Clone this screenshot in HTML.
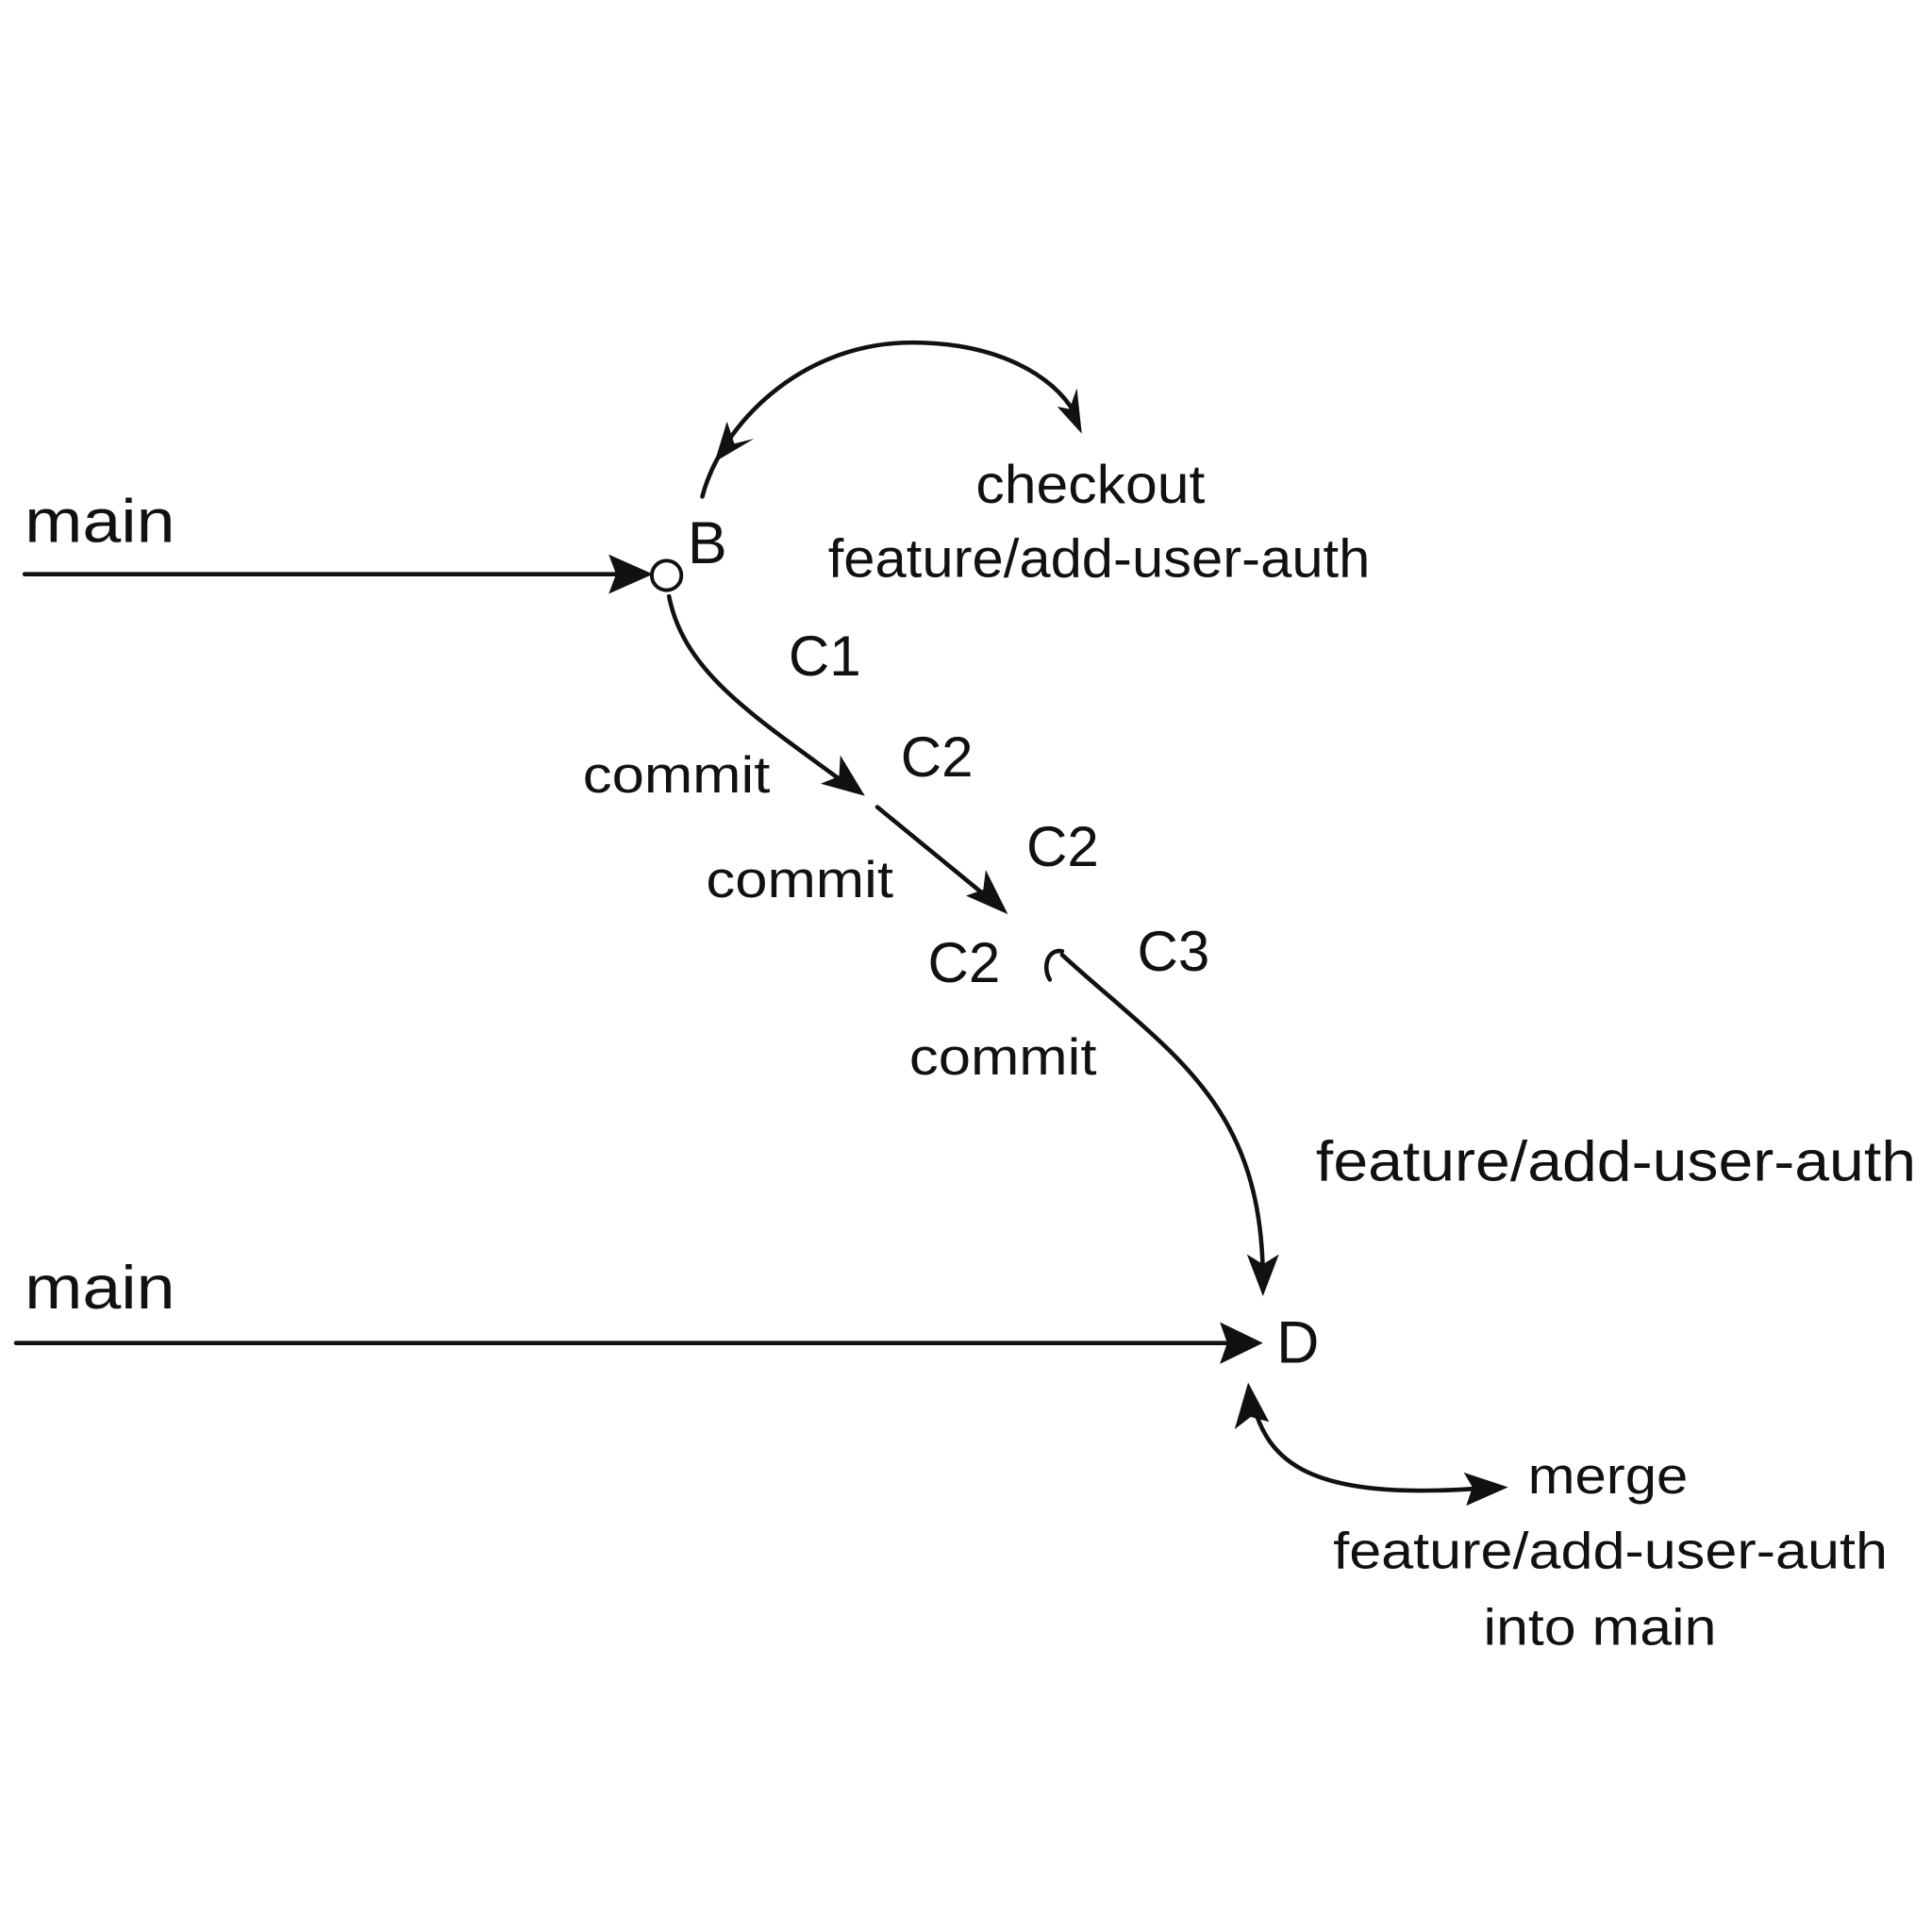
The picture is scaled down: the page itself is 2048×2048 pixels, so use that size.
<!DOCTYPE html>
<html><head><meta charset="utf-8"><style>
html,body{margin:0;padding:0;background:#fff;}
svg{display:block;}
text{font-family:"Liberation Sans","DejaVu Sans",sans-serif;fill:#111;}
</style></head><body>
<svg width="2048" height="2048" viewBox="0 0 1568 1568" xmlns="http://www.w3.org/2000/svg">
<g stroke="#111" stroke-width="3.5" fill="none" stroke-linecap="round">
<line x1="20" y1="466" x2="500" y2="466"/>
<circle cx="541" cy="467" r="12" stroke-width="3"/>
<path d="M570 403 C 585 345, 650 278, 740 278 C 810 278, 855 305, 872 335"/>
<path d="M543 484 C 555 545, 610 580, 685 635"/>
<line x1="712" y1="655" x2="806" y2="732"/>
<path d="M852 795 C 846 785, 850 770, 862 772"/>
<path d="M862 775 C 950 855, 1025 895, 1025 1040"/>
<line x1="13" y1="1090" x2="1000" y2="1090"/>
<path d="M1017 1140 C 1030 1185, 1060 1218, 1200 1208"/>
</g>
<g fill="#111">
<polygon points="530,466 494,450 500,466 494,482"/>
<polygon points="580,375 612,356 596,360 590,342"/>
<polygon points="878,352 858,330 868,332 874,315"/>
<polygon points="702,646 666,636 681,630 682,613"/>
<polygon points="818,742 784,727 798,722 800,706"/>
<polygon points="1025,1052 1012,1018 1025,1026 1038,1018"/>
<polygon points="1025,1090 990,1073 996,1090 990,1107"/>
<polygon points="1013,1122 1002,1160 1015,1150 1030,1154"/>
<polygon points="1224,1207 1188,1195 1195,1207 1190,1222"/>
</g>
<g lengthAdjust="spacingAndGlyphs">
<text x="20" y="440" font-size="50" textLength="122" lengthAdjust="spacingAndGlyphs">main</text>
<text x="558" y="457" font-size="48">B</text>
<text x="792" y="408" font-size="44" textLength="186" lengthAdjust="spacingAndGlyphs">checkout</text>
<text x="672" y="468" font-size="44" textLength="440" lengthAdjust="spacingAndGlyphs">feature/add-user-auth</text>
<text x="640" y="548" font-size="46">C1</text>
<text x="473" y="643" font-size="42" textLength="152" lengthAdjust="spacingAndGlyphs">commit</text>
<text x="731" y="630" font-size="46">C2</text>
<text x="573" y="728" font-size="42" textLength="152" lengthAdjust="spacingAndGlyphs">commit</text>
<text x="833" y="703" font-size="46">C2</text>
<text x="753" y="797" font-size="46">C2</text>
<text x="923" y="788" font-size="46">C3</text>
<text x="738" y="872" font-size="42" textLength="152" lengthAdjust="spacingAndGlyphs">commit</text>
<text x="1068" y="958" font-size="46" textLength="487" lengthAdjust="spacingAndGlyphs">feature/add-user-auth</text>
<text x="20" y="1062" font-size="50" textLength="122" lengthAdjust="spacingAndGlyphs">main</text>
<text x="1036" y="1106" font-size="48">D</text>
<text x="1240" y="1212" font-size="42" textLength="130" lengthAdjust="spacingAndGlyphs">merge</text>
<text x="1082" y="1273" font-size="42" textLength="450" lengthAdjust="spacingAndGlyphs">feature/add-user-auth</text>
<text x="1204" y="1335" font-size="42" textLength="189" lengthAdjust="spacingAndGlyphs">into main</text>
</g>
</svg>
</body></html>
